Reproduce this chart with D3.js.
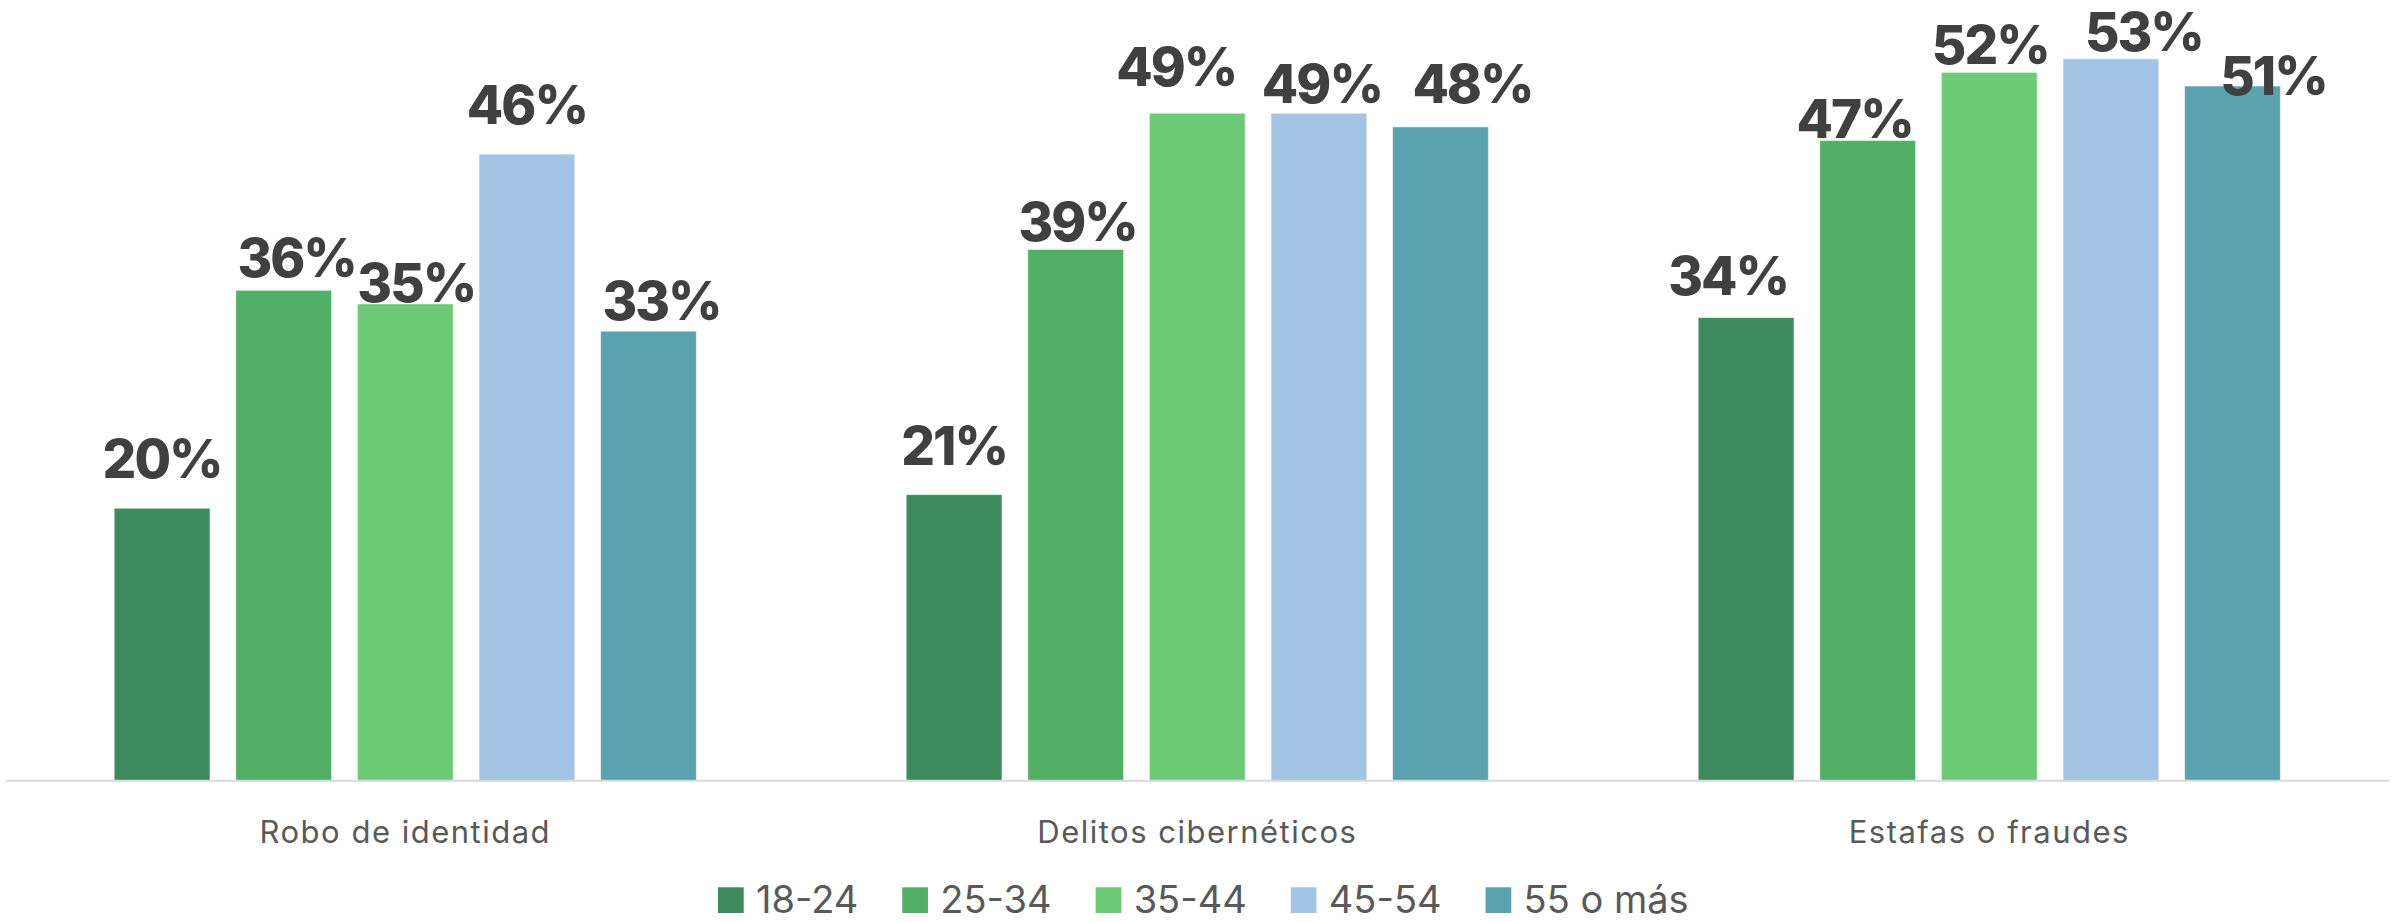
<!DOCTYPE html>
<html>
<head>
<meta charset="utf-8">
<script src="https://cdn.jsdelivr.net/npm/d3@7"></script>
<style>
  html, body { margin: 0; padding: 0; background: #ffffff; }
  svg { display: block; }
</style>
</head>
<body>
<svg id="chart" width="2400" height="922"></svg>
<script>
// ---- data ----
const categories = ["Robo de identidad", "Delitos cibernéticos", "Estafas o fraudes"];
const seriesNames = ["18-24", "25-34", "35-44", "45-54", "55 o más"];
const values18_24 = [20, 21, 34];
const values25_34 = [36, 39, 47];
const values35_44 = [35, 49, 52];
const values45_54 = [46, 49, 53];
const values55mas = [33, 48, 51];
const seriesValues = [values18_24, values25_34, values35_44, values45_54, values55mas];

// ---- styling / layout (kept apart from data) ----
const colors = ["#3D8B5C", "#52AF66", "#6DCB76", "#A2C4E5", "#5BA2B0"];
// manual label nudges [dx, dy] per category, per series (as placed in the original)
const labelNudges = [
  [[0, 0], [13, 17], [11, 28], [0, 0], [13, 19]],
  [[0, 0], [2, 21], [-21, 3], [3, 20], [32, 6]],
  [[-18, 7], [-13, 27], [1, 22], [33, 22], [41, 39]]
];

const svg = d3.select("#chart");
const baseY = 780.7;
const plotLeft = 9.3, plotRight = 2385.3;

const x0 = d3.scaleBand().domain(categories).range([plotLeft, plotRight]).paddingInner(0).paddingOuter(0);
const x1 = d3.scaleBand().domain(seriesNames).range([0, x0.bandwidth()]).paddingInner(0.213).paddingOuter(0.863);
const y = d3.scaleLinear().domain([0, 57.32]).range([baseY, 0]);
const color = d3.scaleOrdinal().domain(seriesNames).range(colors);

const rows = [];
categories.forEach((c, ci) => {
  seriesNames.forEach((s, si) => {
    rows.push({ cat: c, ci, ser: s, si, v: seriesValues[si][ci] });
  });
});

// bars
svg.append("g").selectAll("rect").data(rows).join("rect")
  .attr("x", d => x0(d.cat) + x1(d.ser))
  .attr("y", d => y(d.v))
  .attr("width", x1.bandwidth())
  .attr("height", d => baseY - y(d.v))
  .attr("fill", d => color(d.ser))
  .attr("stroke", "rgba(255,255,255,0.45)")
  .attr("stroke-width", 1);

// baseline axis
const xAxis = d3.axisBottom(x0).tickSize(0).tickPadding(0);
const gx = svg.append("g").attr("transform", `translate(0,${baseY})`).call(xAxis);
gx.select(".domain").attr("stroke", "#D9D9D9").attr("stroke-width", 2)
  .attr("d", `M${plotLeft - 3},0H${plotRight + 4}`);
gx.selectAll(".tick text")
  .attr("y", 62)
  .attr("dy", 0)
  .attr("fill", "#595959")
  .style("font-family", "Inter, 'Noto Sans', sans-serif")
  .style("font-weight", 400)
  .style("font-size", "31px")
  .style("letter-spacing", "1.5px");

// value labels
svg.append("g").selectAll("text").data(rows).join("text")
  .attr("x", d => x0(d.cat) + x1(d.ser) + x1.bandwidth() / 2 + labelNudges[d.ci][d.si][0])
  .attr("y", d => y(d.v) - 30 + labelNudges[d.ci][d.si][1])
  .attr("text-anchor", "middle")
  .attr("fill", "#404040")
  .style("font-family", "Inter, 'Noto Sans', sans-serif")
  .style("font-weight", 800)
  .style("font-size", "53px")
  .style("letter-spacing", "-2px")
  .text(d => d.v + "%");

// legend
const legend = svg.append("g");
const legendBase = 913;
const legendFont = { family: "Inter, 'Noto Sans', sans-serif", size: 38 };
const items = legend.selectAll("g").data(seriesNames).join("g");
items.append("rect")
  .attr("width", 25.7).attr("height", 25.7)
  .attr("y", legendBase - 25.7)
  .attr("fill", d => color(d));
items.append("text")
  .attr("x", 25.7 + 12.3)
  .attr("y", legendBase)
  .attr("fill", "#595959")
  .style("font-family", legendFont.family)
  .style("font-weight", 400)
  .style("font-size", legendFont.size + "px")
  .text(d => d);
let cursor = 0;
const offsets = [];
items.each(function () {
  const w = d3.select(this).select("text").node().getComputedTextLength();
  offsets.push(cursor);
  cursor += 25.7 + 12.3 + w + 44;
});
const totalW = cursor - 44;
const startX = (plotLeft + plotRight) / 2 + 6 - totalW / 2;
items.attr("transform", (d, i) => `translate(${startX + offsets[i]},0)`);
</script>
</body>
</html>
